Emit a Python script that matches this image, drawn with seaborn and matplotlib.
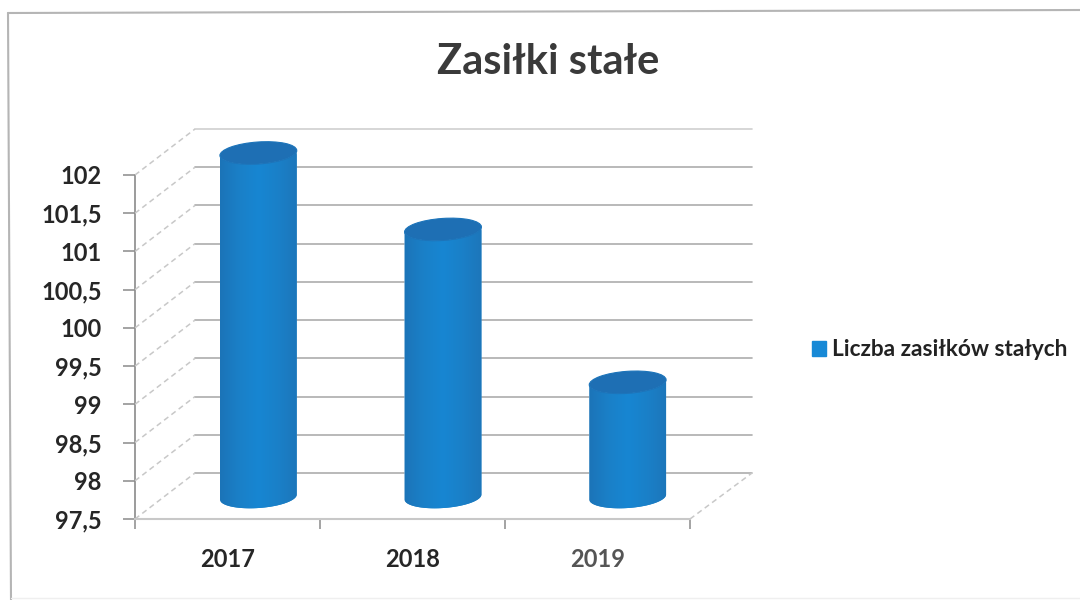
import numpy as np
import matplotlib
matplotlib.use("Agg")
import matplotlib.pyplot as plt
import seaborn as sns
from matplotlib.patches import Ellipse, Patch
from matplotlib.path import Path
from matplotlib.transforms import IdentityTransform
from matplotlib.colors import LinearSegmentedColormap
from matplotlib.lines import Line2D

years = ["2017", "2018", "2019"]
counts = [102, 101, 99]
y_ticks = [97.5, 98, 98.5, 99, 99.5, 100, 100.5, 101, 101.5, 102]
y_labels = ["97,5", "98", "98,5", "99", "99,5", "100", "100,5", "101", "101,5", "102"]
title_text = "Zasiłki stałe"
series_name = "Liczba zasiłków stałych"

W, H = 1080, 600
sns.set_theme(style="white")
plt.rcParams["font.family"] = ["Lato", "DejaVu Sans"]
plt.rcParams["font.weight"] = "bold"
TXT = "#262626"
GRID = "#adadad"
DIAG = "#c8c8c8"
BODY = "#1a80c8"

fig = plt.figure(figsize=(W / 100, H / 100), dpi=100, facecolor="white")

def make_axes(left, right, top, bottom):
    ax = fig.add_axes([left / W, 1 - bottom / H, (right - left) / W, (bottom - top) / H])
    ax.set_facecolor("none")
    return ax

front = make_axes(135, 690, 175, 519)
back = make_axes(195, 752, 129, 473)
mid = make_axes(166, 720, 153, 497)

for ax in (front, back, mid):
    ax.set_xlim(-0.5, 2.5)
    ax.set_ylim(y_ticks[0], y_ticks[-1])

# back wall
back.set_yticks(y_ticks)
back.set_xticks([])
back.tick_params(left=False, labelleft=False)
back.grid(axis="y", color=GRID, linewidth=1.2)
for ln in back.get_ygridlines():
    ln.set_clip_on(False)
back.get_ygridlines()[-1].set_color("#cfcfcf")
sns.despine(ax=back, left=True, bottom=True)

# front axes
front.set_yticks(y_ticks, y_labels)
front.set_xticks([-0.5, 0.5, 1.5, 2.5])
front.set_xticklabels([])
front.set_xticks([0, 1, 2], years, minor=True)
front.tick_params(axis="y", length=9, width=1.1, color="#8a8a8a", labelsize=17, labelcolor=TXT, pad=15, left=True)
front.tick_params(axis="x", which="major", length=7, width=1.1, color="#8a8a8a", bottom=True)
front.tick_params(axis="x", which="minor", length=0, labelsize=17, labelcolor=TXT, pad=21)
for lab in front.get_xticklabels(minor=True):
    lab.set_fontweight("bold")
for lab in front.get_yticklabels():
    lab.set_fontweight("bold")
front.get_xticklabels(minor=True)[2].set_color("#555555")
sns.despine(ax=front)
front.spines["left"].set_color("#8a8a8a")
front.spines["bottom"].set_color("#c8c8c8")
front.spines["left"].set_linewidth(1.2)
front.spines["bottom"].set_linewidth(1.5)

# depth lines joining the front axis and the back wall
def to_fig(ax, x, y):
    p = ax.transData.transform((x, y))
    return fig.transFigure.inverted().transform(p)

for v in y_ticks:
    a, b = to_fig(front, -0.5, v), to_fig(back, -0.5, v)
    fig.add_artist(Line2D([a[0], b[0]], [a[1], b[1]], color=DIAG, lw=1.1, ls=(0, (3.5, 2.5))))
a, b = to_fig(front, 2.5, y_ticks[0]), to_fig(back, 2.5, y_ticks[0])
fig.add_artist(Line2D([a[0], b[0]], [a[1], b[1]], color=DIAG, lw=1.1, ls=(0, (3.5, 2.5))))

# cylinders: bars from seaborn on the middle plane, shaped with clip paths
sns.barplot(x=years, y=counts, ax=mid, color=BODY, saturation=1, width=0.417, legend=False)
mid.set_xlim(-0.5, 2.5)
mid.set_ylim(y_ticks[0], y_ticks[-1])
mid.axis("off")
fig.canvas.draw()

cmap = LinearSegmentedColormap.from_list("cyl", ["#1c74b8", "#1a80c8", "#1786d2", "#1a80c8", "#1d76ba"])
grad = np.linspace(0, 1, 128).reshape(1, -1)
TILT = np.deg2rad(4.0)
EH = 11.0

def ell_pts(cx, cy, a, b, t):
    x = a * np.cos(t)
    y = b * np.sin(t)
    return np.column_stack([cx + x * np.cos(TILT) - y * np.sin(TILT),
                            cy + x * np.sin(TILT) + y * np.cos(TILT)])

for bar in list(mid.patches):
    x0, w, top = bar.get_x(), bar.get_width(), bar.get_height()
    (px0, py0) = mid.transData.transform((x0, y_ticks[0]))
    (px1, py1) = mid.transData.transform((x0 + w, top))
    cx, a = (px0 + px1) / 2, (px1 - px0) / 2
    upper = ell_pts(cx, py1, a, EH, np.linspace(np.pi, 2 * np.pi, 60))
    lower = ell_pts(cx, py0, a, EH, np.linspace(2 * np.pi, np.pi, 60))
    body = np.vstack([upper, lower, upper[:1]])
    path = Path(body, closed=True)
    bar.set_clip_box(fig.bbox)
    bar.set_clip_path(path, IdentityTransform())
    img = mid.imshow(grad, extent=(x0, x0 + w, y_ticks[0] - 0.35, top + 0.1), aspect="auto", cmap=cmap, zorder=3)
    img.set_clip_box(fig.bbox)
    img.set_clip_path(path, IdentityTransform())
    mid.add_patch(Ellipse((cx, py1), 2 * a, 2 * EH, angle=np.rad2deg(TILT), transform=IdentityTransform(),
                          facecolor="#1e6fb4", edgecolor="#1c74ba", lw=0.8, zorder=4, clip_on=False))
mid.set_xlim(-0.5, 2.5)
mid.set_ylim(y_ticks[0], y_ticks[-1])

# title, legend, scanned page frame
fig.text(548 / W, 1 - 62 / H, title_text, ha="center", va="center", fontsize=30, fontweight="bold", color="#3a3a3a")
handle = Patch(facecolor="#1789d6", edgecolor="#1789d6", label=series_name)
fig.legend(handles=[handle], loc="center left", bbox_to_anchor=(812 / W, 1 - 350 / H), frameon=False,
           prop={"size": 16.3, "weight": "bold"}, labelcolor="#222222", handlelength=0.6, handleheight=0.6,
           handletextpad=0.28, borderpad=0, borderaxespad=0)
fig.add_artist(Line2D([8 / W, 1], [1 - 13 / H, 1 - 10 / H], color="#b5b5b5", lw=1.5))
fig.add_artist(Line2D([8 / W, 11 / W], [1 - 13 / H, 0], color="#b5b5b5", lw=1.5))
fig.add_artist(Line2D([11 / W, 1], [1 - 598 / H, 1 - 598 / H], color="#efefef", lw=1.0))

fig.savefig("out.png", dpi=100, facecolor="white")
